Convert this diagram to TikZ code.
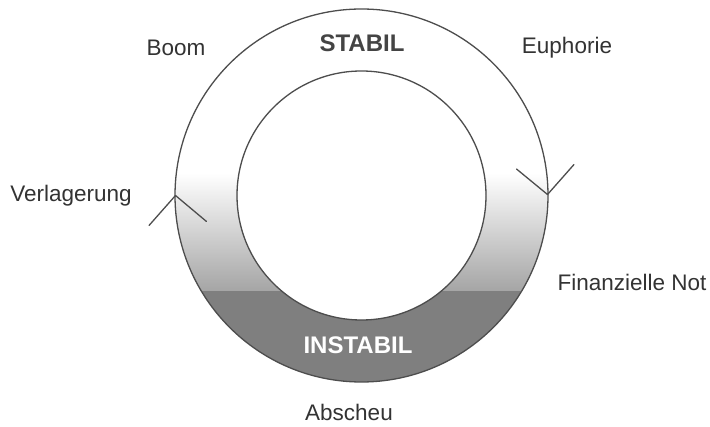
\documentclass[tikz,border=0pt]{standalone}
\usepackage{fontspec}
\setmainfont{Liberation Sans}
\definecolor{ringline}{HTML}{4D4D4D}
\definecolor{darkfill}{HTML}{7F7F7F}
\definecolor{midfill}{HTML}{CDCDCD}
\definecolor{lowfill}{HTML}{A5A5A5}
\definecolor{labeltext}{HTML}{333333}
\definecolor{titletext}{HTML}{444444}
\tikzset{
  lbl/.style={text=labeltext, font=\fontsize{22.5}{27}\selectfont, inner sep=0pt},
  state/.style={font=\fontsize{24}{28}\selectfont\bfseries, inner sep=0pt},
  ringedge/.style={draw=ringline, line width=1.3pt},
  chevron/.style={draw=ringline, line width=1.3pt, line cap=round, line join=round}
}
\begin{document}
\begin{tikzpicture}[x=1pt,y=-1pt]
  \useasboundingbox (0,0) rectangle (710,427);
  \fill[white] (0,0) rectangle (710,427);
  \coordinate (c) at (361.5,195.5);
  % shaded lower part of the ring
  \begin{scope}[even odd rule]
    \clip (c) circle[radius=186.5] (c) circle[radius=124.5];
    \fill[top color=white, middle color=midfill, bottom color=lowfill]
      (150,173) rectangle (580,291);
    \fill[darkfill] (150,291) rectangle (580,400);
  \end{scope}
  % ring outlines
  \draw[ringedge] (c) circle[radius=186.5];
  \draw[ringedge] (c) circle[radius=124.5];
  % direction marks on the ring
  \coordinate (lt) at (175.5,195.5);
  \coordinate (lt1) at (149,225.5);
  \coordinate (lt2) at (206.5,221.5);
  \draw[chevron] (lt1) -- (lt) -- (lt2);
  \coordinate (rt) at (547.5,194.5);
  \coordinate (rt1) at (516.5,169);
  \coordinate (rt2) at (574,164.5);
  \draw[chevron] (rt1) -- (rt) -- (rt2);
  % states
  \node[state, text=titletext] (stabil) at (362,43) {STABIL};
  \node[state, text=white] (instabil) at (358,345.5) {INSTABIL};
  % phases
  \node[lbl] (boom) at (176,48) {Boom};
  \node[lbl] (euphorie) at (567,48) {Euphorie};
  \node[lbl] (verlagerung) at (71,196) {Verlagerung};
  \node[lbl] (not) at (632,282) {Finanzielle Not};
  \node[lbl] (abscheu) at (349,412) {Abscheu};
\end{tikzpicture}
\end{document}
